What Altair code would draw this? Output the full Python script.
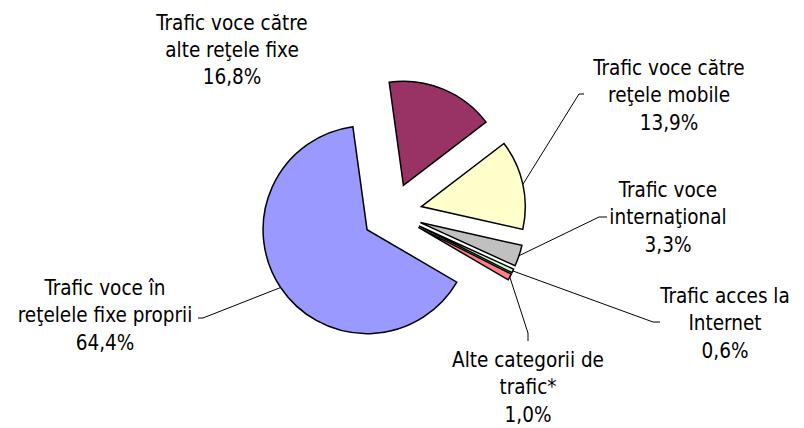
import math
import altair as alt
import pandas as pd

# ---- data ----
categories = [
    "Trafic voce în reţelele fixe proprii",
    "Trafic voce către alte reţele fixe",
    "Trafic voce către reţele mobile",
    "Trafic voce internaţional",
    "Trafic acces la Internet",
    "Alte categorii de trafic*",
]
values = [64.4, 16.8, 13.9, 3.3, 0.6, 1.0]
label_lines = [
    ["Trafic voce în", "reţelele fixe proprii"],
    ["Trafic voce către", "alte reţele fixe"],
    ["Trafic voce către", "reţele mobile"],
    ["Trafic voce", "internaţional"],
    ["Trafic acces la", "Internet"],
    ["Alte categorii de", "trafic*"],
]

# ---- style / layout ----
colors = ["#9999FF", "#993366", "#FFFFCC", "#C0C0C0", "#CCFFCC", "#FF8080"]
W, H = 788, 420
CX, CY = 384, 205          # pie centre (plot coords)
R = 104                    # radius
EXPLODE = 30               # explosion distance
START_DEG = 120.3          # angle of first slice
FONT = "DejaVu Sans Condensed, DejaVu Sans"
FS = 20.5
LH = 27.3

# label anchor (centre x, first baseline y), leader elbow and leader end
label_pos = [(97, 287), (224, 21.5), (661, 67), (660, 189), (717, 295), (520, 359)]
leader_elbow = [(195, 310), None, (571, 86), (591, 209), (645, 314), (520, 325)]
leader_end = [(190, 310), None, (576, 86), (599, 209), (652, 314), (520, 333)]

def pct(v):
    return f"{v:.1f}".replace(".", ",") + "%"

df = pd.DataFrame({
    "cat": categories,
    "value": values,
    "order": list(range(len(categories))),
})

lab = pd.DataFrame({
    "cat": categories,
    "text": [lines + [pct(v)] for lines, v in zip(label_lines, values)],
    "tx": [p[0] for p in label_pos],
    "ty": [p[1] for p in label_pos],
})

lead_rows = []
for c, e, n in zip(categories, leader_elbow, leader_end):
    if e is not None:
        lead_rows.append({"cat": c, "ex": e[0], "ey": e[1], "nx": n[0], "ny": n[1]})
lead = pd.DataFrame(lead_rows)

start = math.radians(START_DEG)

base = alt.Chart(df).transform_window(
    cum="sum(value)", sort=[alt.SortField("order")], frame=[None, 0]
).transform_joinaggregate(
    total="sum(value)"
).transform_calculate(
    t0=f"{start} + 2*PI*(datum.cum - datum.value)/datum.total",
    t1=f"{start} + 2*PI*datum.cum/datum.total",
).transform_calculate(
    mid="(datum.t0 + datum.t1)/2",
).transform_calculate(
    cx=f"{CX} + {EXPLODE}*sin(datum.mid)",
    cy=f"{CY} - {EXPLODE}*cos(datum.mid)",
).transform_calculate(
    px=f"datum.cx + {R}*sin(datum.mid)",
    py=f"datum.cy - {R}*cos(datum.mid)",
)

xs = alt.Scale(domain=[0, W], range=[0, W])
ys = alt.Scale(domain=[0, H], range=[0, H])

arcs = base.mark_arc(outerRadius=R, stroke="black", strokeWidth=1.5).encode(
    x=alt.X("cx:Q", scale=xs, axis=None),
    y=alt.Y("cy:Q", scale=ys, axis=None),
    theta=alt.Theta("t0:Q", scale=None),
    theta2=alt.Theta2("t1:Q"),
    color=alt.Color("cat:N", scale=alt.Scale(domain=categories, range=colors), legend=None),
)

leader1 = base.transform_lookup(
    lookup="cat", from_=alt.LookupData(lead, "cat", ["ex", "ey", "nx", "ny"])
).transform_filter("isValid(datum.ex)").mark_rule(color="black", strokeWidth=1).encode(
    x=alt.X("px:Q", scale=xs, axis=None),
    y=alt.Y("py:Q", scale=ys, axis=None),
    x2="ex:Q",
    y2="ey:Q",
)

leader2 = alt.Chart(lead).mark_rule(color="black", strokeWidth=1).encode(
    x=alt.X("ex:Q", scale=xs, axis=None),
    y=alt.Y("ey:Q", scale=ys, axis=None),
    x2="nx:Q",
    y2="ny:Q",
)

labels = alt.Chart(lab).mark_text(
    font=FONT, fontSize=FS, lineHeight=LH, align="center", baseline="alphabetic", color="black"
).encode(
    x=alt.X("tx:Q", scale=xs, axis=None),
    y=alt.Y("ty:Q", scale=ys, axis=None),
    text="text",
)

chart = alt.layer(arcs, leader1, leader2, labels).properties(
    width=W, height=H, padding=0, autosize=alt.AutoSizeParams(type="none")
).configure_view(stroke=None)

chart.save("out.html", embed_options={"renderer": "svg", "actions": False})
